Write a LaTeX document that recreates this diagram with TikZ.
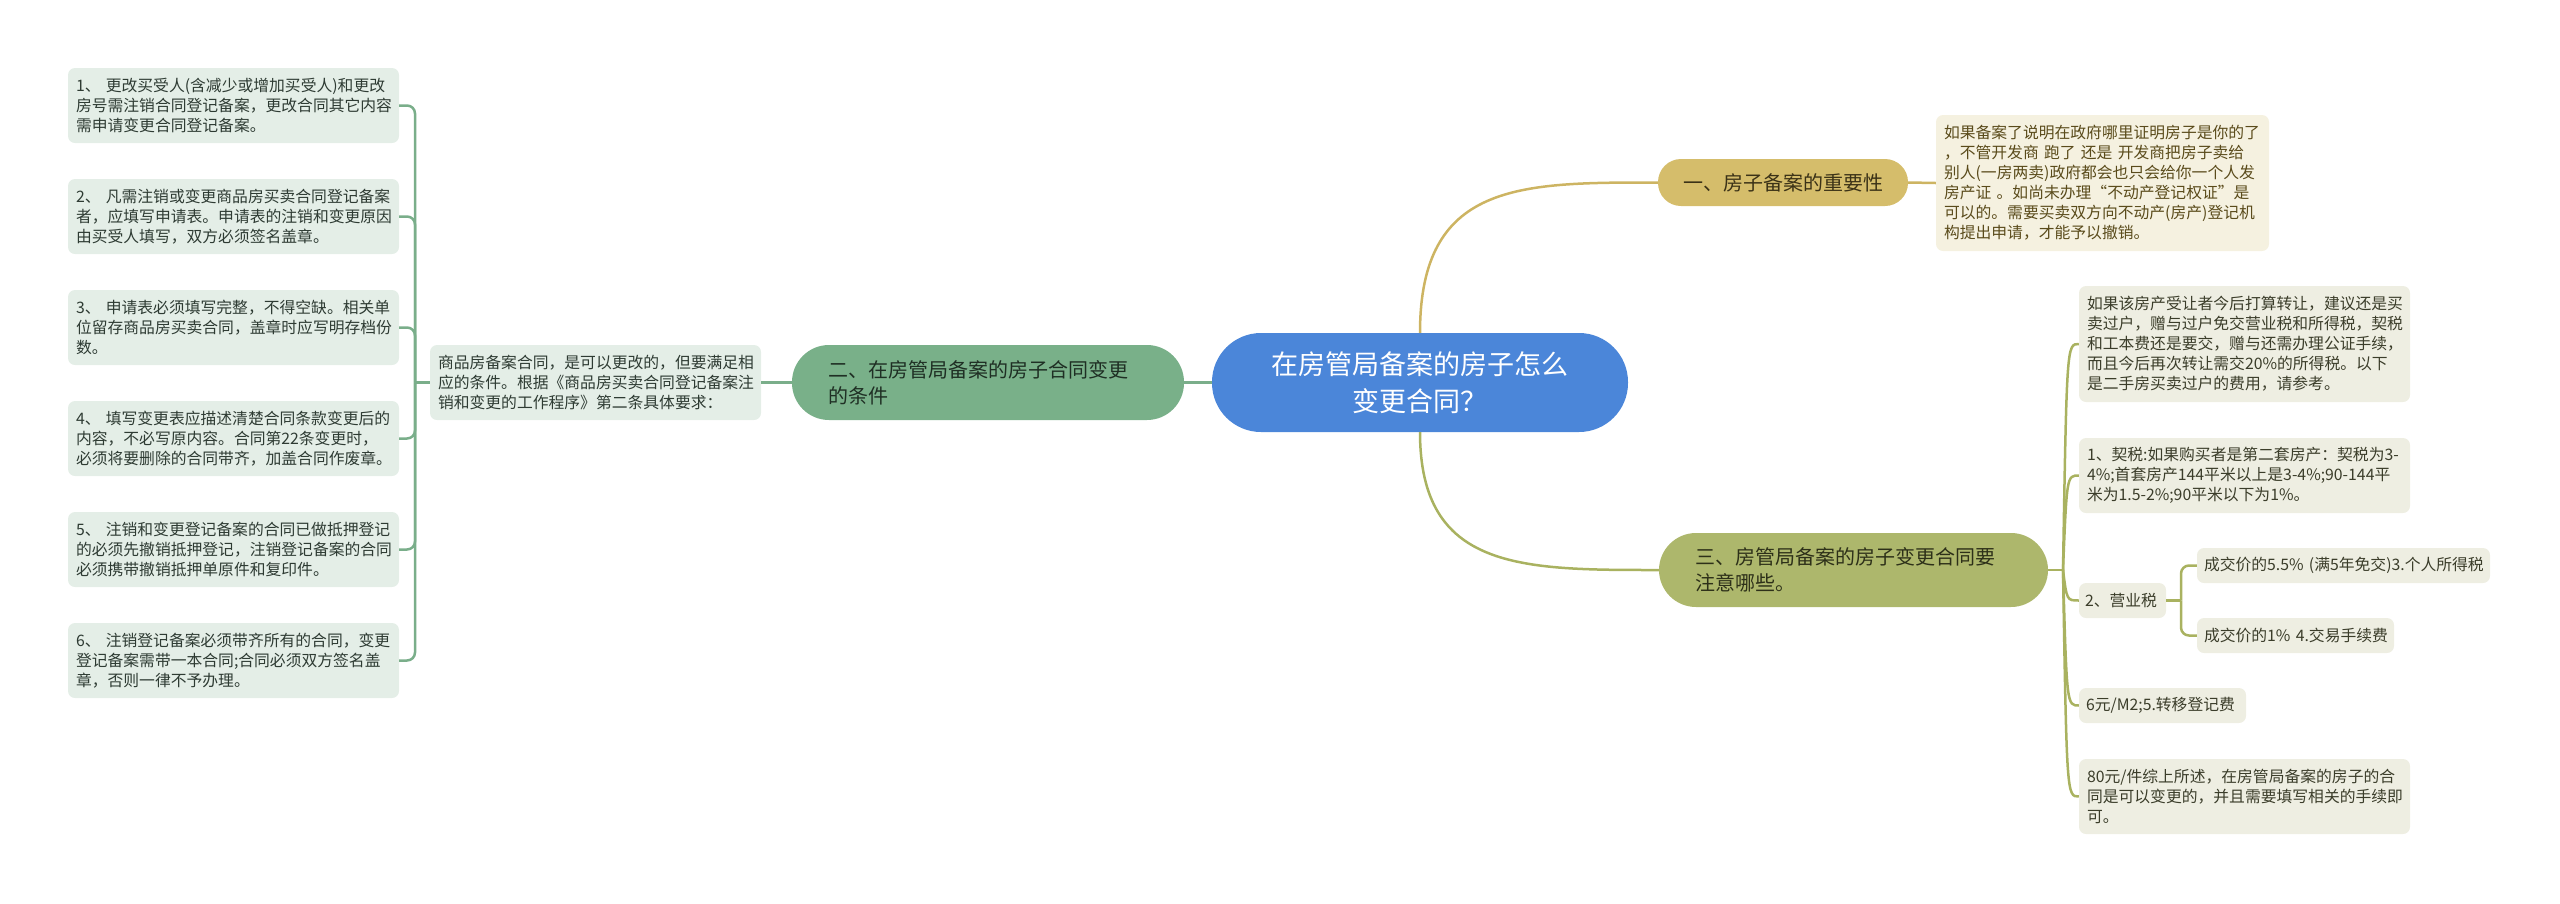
\documentclass[tikz,border=0pt]{standalone}
\usepackage{fontspec}
\setmainfont{Noto Sans CJK SC}
\usetikzlibrary{calc}
\definecolor{cblue}{HTML}{4B86D9}
\definecolor{cgold}{HTML}{D5BD6B}
\definecolor{cgreen}{HTML}{79B089}
\definecolor{colive}{HTML}{ADB76C}
\definecolor{lgreen}{HTML}{E4EEE7}
\definecolor{lcream}{HTML}{F5F1E0}
\definecolor{lolive}{HTML}{EEEEE2}
\definecolor{goldln}{HTML}{CDB462}
\definecolor{greenln}{HTML}{7AAE8A}
\definecolor{oliveln}{HTML}{A9B260}
\definecolor{gtxt}{HTML}{2E3B33}
\definecolor{btxt}{HTML}{5A4B1B}
\definecolor{otxt}{HTML}{3B3D2A}
\definecolor{b1txt}{HTML}{3B3217}
\definecolor{b2txt}{HTML}{1F2F24}
\definecolor{b3txt}{HTML}{2D3019}
\begin{document}
\begin{tikzpicture}[x=1pt,y=-1pt,
  base/.style={inner sep=0pt, align=left, font=\fontsize{15.8}{20}\selectfont},
  sz/.style n args={3}{minimum width=#1pt, text width=#2pt, minimum height=#3pt},
  lbox/.style={base, fill=lgreen, rounded corners=7pt, text=gtxt},
  cbox/.style={base, fill=lcream, rounded corners=7pt, text=btxt},
  obox/.style={base, fill=lolive, rounded corners=7pt, text=otxt},
  branch/.style={inner sep=0pt, align=left, font=\fontsize{20}{26}\selectfont},
  gline/.style={draw=greenln, line width=2.5pt},
  yline/.style={draw=goldln, line width=2.5pt},
  oline/.style={draw=oliveln, line width=2.5pt},
  rc/.style={rounded corners=8pt}
]
\useasboundingbox (0,0) rectangle (2560,903);

% centre
\node[inner sep=0pt, align=center, fill=cblue, text=white, rounded corners=49pt,
  sz={416}{400}{99}, font=\fontsize{27}{37}\selectfont] (C) at (1420,382.5)
  {在房管局备案的房子怎么\\变更合同？};

% branch 1
\node[branch, fill=cgold, text=b1txt, rounded corners=23pt, align=center,
  sz={250}{230}{47}] (B1) at (1783,182.5) {一、房子备案的重要性};
\node[cbox, sz={333}{317}{136}] (T1) at (2102.5,183)
  {如果备案了说明在政府哪里证明房子是你的了\\，不管开发商 跑了 还是 开发商把房子卖给\\别人(一房两卖)政府都会也只会给你一个人发\\房产证 。如尚未办理“不动产登记权证”是\\可以的。需要买卖双方向不动产(房产)登记机\\构提出申请，才能予以撤销。};

% branch 2
\node[branch, fill=cgreen, text=b2txt, rounded corners=37pt,
  sz={392}{320}{75}] (B2) at (988,382.5) {二、在房管局备案的房子合同变更\\的条件};
\node[lbox, sz={331}{315}{75}] (T2) at (595.5,382.5)
  {商品房备案合同，是可以更改的，但要满足相\\应的条件。根据《商品房买卖合同登记备案注\\销和变更的工作程序》第二条具体要求：};

\node[lbox, sz={331}{315}{75}] (L1) at (233.5,105.5)
  {1、 更改买受人(含减少或增加买受人)和更改\\房号需注销合同登记备案，更改合同其它内容\\需申请变更合同登记备案。};
\node[lbox, sz={331}{315}{75}] (L2) at (233.5,216.5)
  {2、 凡需注销或变更商品房买卖合同登记备案\\者，应填写申请表。申请表的注销和变更原因\\由买受人填写，双方必须签名盖章。};
\node[lbox, sz={331}{315}{75}] (L3) at (233.5,327.5)
  {3、 申请表必须填写完整，不得空缺。相关单\\位留存商品房买卖合同，盖章时应写明存档份\\数。};
\node[lbox, sz={331}{315}{75}] (L4) at (233.5,438.5)
  {4、 填写变更表应描述清楚合同条款变更后的\\内容，不必写原内容。合同第22条变更时，\\必须将要删除的合同带齐，加盖合同作废章。};
\node[lbox, sz={331}{315}{75}] (L5) at (233.5,549.5)
  {5、 注销和变更登记备案的合同已做抵押登记\\的必须先撤销抵押登记，注销登记备案的合同\\必须携带撤销抵押单原件和复印件。};
\node[lbox, sz={331}{315}{75}] (L6) at (233.5,660.5)
  {6、 注销登记备案必须带齐所有的合同，变更\\登记备案需带一本合同;合同必须双方签名盖\\章，否则一律不予办理。};

% branch 3
\node[branch, fill=colive, text=b3txt, rounded corners=37pt,
  sz={389}{317}{74}] (B3) at (1853.5,570) {三、房管局备案的房子变更合同要\\注意哪些。};
\node[obox, sz={331}{315}{116}] (R1) at (2244.5,344)
  {如果该房产受让者今后打算转让，建议还是买\\卖过户，赠与过户免交营业税和所得税，契税\\和工本费还是要交，赠与还需办理公证手续，\\而且今后再次转让需交20\%的所得税。以下\\是二手房买卖过户的费用，请参考。};
\node[obox, sz={331}{315}{75}] (R2) at (2244.5,475.5)
  {1、契税:如果购买者是第二套房产：契税为3-\\4\%;首套房产144平米以上是3-4\%;90-144平\\米为1.5-2\%;90平米以下为1\%。};
\node[obox, sz={87}{75}{35}] (R3) at (2122.5,600.5) {\mbox{2、营业税}};
\node[obox, sz={293}{279}{35}] (R3a) at (2343.5,565.5) {\mbox{成交价的5.5\% (满5年免交)3.个人所得税}};
\node[obox, sz={197}{183}{35}] (R3b) at (2295.5,635.5) {\mbox{成交价的1\% 4.交易手续费}};
\node[obox, sz={167}{153}{35}] (R4) at (2162.5,705.5) {\mbox{6元/M2;5.转移登记费}};
\node[obox, sz={331}{315}{75}] (R5) at (2244.5,796.5)
  {80元/件综上所述，在房管局备案的房子的合\\同是可以变更的，并且需要填写相关的手续即\\可。};

% connectors
\coordinate (JL) at (415,382.5);
\coordinate (J3) at (2063,570);
\coordinate (JS) at (2181,600.5);

\draw[yline] (C.north) .. controls +(0,-151) and +(-138,0) .. (B1.west);
\draw[yline] (B1.east) -- (T1.west);
\draw[oline] (C.south) .. controls +(0,138) and +(-138,0) .. (B3.west);
\draw[gline] (C.west) -- (B2.east);
\draw[gline] (B2.west) -- (T2.east);
\draw[gline] (T2.west) -- (JL);
\foreach \n in {L1,L2,L3,L4,L5,L6} {
  \draw[gline, rc] (JL) |- (\n.east);
}
\draw[oline] (B3.east) -- (J3);
\foreach \n in {R1,R2,R3,R4,R5} {
  \draw[oline] (J3) .. controls ($(\n.west)+(-12,0)$) .. (\n.west);
}
\draw[oline] (R3.east) -- (JS);
\draw[oline, rc] (JS) |- (R3a.west);
\draw[oline, rc] (JS) |- (R3b.west);
\end{tikzpicture}
\end{document}
